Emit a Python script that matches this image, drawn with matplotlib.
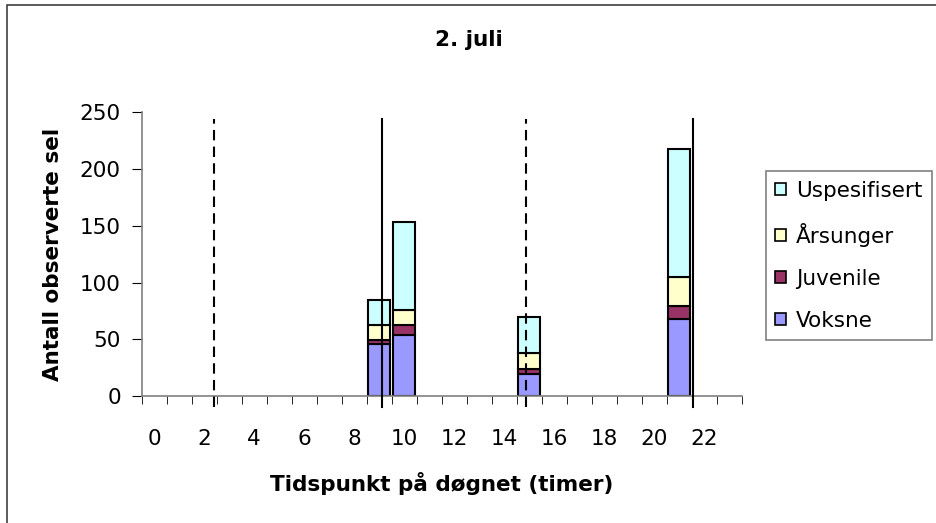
import numpy as np
import matplotlib
matplotlib.use("Agg")
import matplotlib.pyplot as plt
from matplotlib.patches import Patch, Rectangle

# Observed seals per hour of day, 2 July
hours = np.arange(24)
obs_hours = [9, 10, 15, 21]
voksne = [46, 54, 19, 68]
juvenile = [3, 9, 5, 11]
arsunger = [14, 13, 14, 26]
uspesifisert = [22, 77, 32, 113]

# Tide times (hours), low = dashed, high = solid
tide_times = [2.9, 9.6, 15.36, 22.06]
tide_styles = ["--", "-", "--", "-"]

series = [
    ("Voksne", voksne, "#9999FF"),
    ("Juvenile", juvenile, "#993366"),
    ("Årsunger", arsunger, "#FFFFCC"),
    ("Uspesifisert", uspesifisert, "#CCFFFF"),
]

plt.rcParams["font.family"] = ["DejaVu Sans"]
FS = 15.5

fig = plt.figure(figsize=(9.37, 5.23), dpi=100)
ax = fig.add_axes([0.1512, 0.2428, 0.6404, 0.5425])

bottom = np.zeros(len(obs_hours))
for name, vals, color in series:
    ax.bar(obs_hours, vals, width=0.88, bottom=bottom, color=color,
           edgecolor="black", linewidth=1.5, label=name, zorder=2)
    bottom += np.array(vals)

# tide lines run on a 0-24 h scale; categories are centred on whole hours
for t, ls in zip(tide_times, tide_styles):
    ax.plot([t - 0.5, t - 0.5], [-10, 244], color="black", linestyle=ls,
            linewidth=1.5, clip_on=False, zorder=3,
            dashes=(5, 3) if ls == "--" else (None, None))

ax.set_xlim(-0.5, 23.5)
ax.set_ylim(0, 250)
ax.set_yticks(range(0, 251, 50))
ax.set_xticks(range(0, 24, 2))
ax.set_xticks(np.arange(-0.5, 24, 1), minor=True)
ax.tick_params(axis="x", which="major", length=0, labelsize=FS, pad=24)
ax.tick_params(axis="x", which="minor", length=6, direction="out", color="black")
ax.tick_params(axis="y", length=7, labelsize=FS, color="black", pad=8)

for side in ["top", "right"]:
    ax.spines[side].set_visible(False)
for side in ["left", "bottom"]:
    ax.spines[side].set_color("#808080")
    ax.spines[side].set_linewidth(1.2)

ax.set_ylabel("Antall observerte sel", fontsize=FS, fontweight="bold", labelpad=12)
ax.set_xlabel("Tidspunkt på døgnet (timer)", fontsize=FS, fontweight="bold", labelpad=16)
fig.text(0.5, 0.923, "2. juli", ha="center", va="center", fontsize=FS, fontweight="bold")

handles = [Patch(facecolor=c, edgecolor="black", linewidth=1.2, label=n)
           for n, _, c in reversed(series)]
leg = fig.legend(handles=handles, loc="upper left", bbox_to_anchor=(0.817, 0.673),
                 fontsize=FS, frameon=True, fancybox=False, framealpha=1,
                 edgecolor="#808080", handlelength=0.5, handleheight=0.5,
                 handletextpad=0.45, labelspacing=1.02, borderpad=0.45,
                 borderaxespad=0)
leg.get_frame().set_linewidth(1.2)

# chart area border
fig.patches.append(Rectangle((7 / 937, -0.1), 2, 1.1 - 5 / 523, transform=fig.transFigure,
                             fill=False, edgecolor="#404040", linewidth=1.2))

fig.savefig("out.png", dpi=100)
